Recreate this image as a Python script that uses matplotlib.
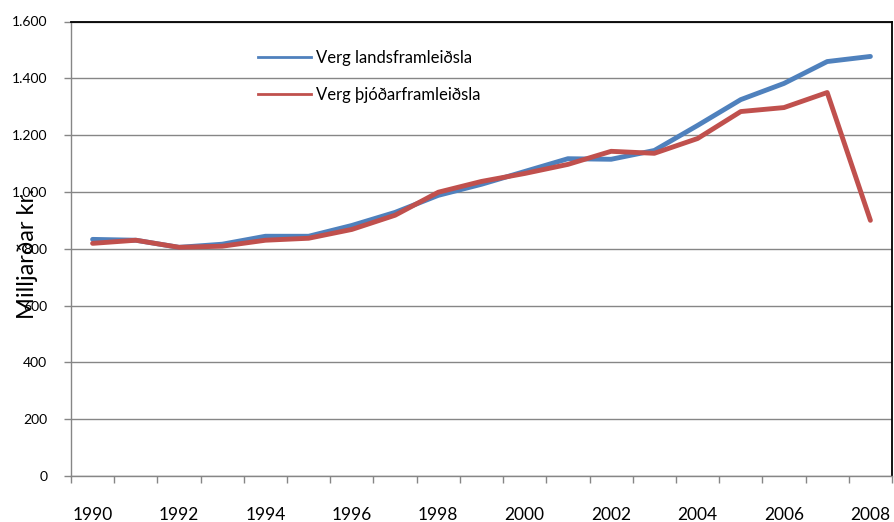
import matplotlib.pyplot as plt
from matplotlib.lines import Line2D
from matplotlib.ticker import FuncFormatter, FixedLocator

plt.rcParams['font.family'] = ['Lato', 'DejaVu Sans']

years = list(range(1990, 2009))
# Verg landsframleiðsla (milljarðar kr.)
vlf = [833, 830, 805, 816, 844, 844, 882, 928, 988, 1027, 1072,
       1117, 1115, 1146, 1234, 1325, 1382, 1459, 1477]
# Verg þjóðarframleiðsla (milljarðar kr.)
vthf = [819, 830, 805, 809, 830, 837, 868, 918, 999, 1037, 1065,
        1097, 1143, 1136, 1188, 1283, 1297, 1350, 900]
series_names = ["Verg landsframleiðsla", "Verg þjóðarframleiðsla"]
blue = "#4F81BD"
red = "#C0504D"
grey = "#868686"

W, H = 894, 522
fig = plt.figure(figsize=(W / 100, H / 100), dpi=100)
ax = fig.add_axes([71 / W, (H - 476) / H, 821 / W, (476 - 21.5) / H])

x = range(len(years))
ax.plot(x, vlf, color=blue, lw=3.5, solid_joinstyle="round", solid_capstyle="round", zorder=3)
ax.plot(x, vthf, color=red, lw=3.5, solid_joinstyle="round", solid_capstyle="round", zorder=4)

ax.set_xlim(-0.5, len(years) - 0.5)
ax.set_ylim(0, 1600)
ax.set_yticks(range(0, 1601, 200))
ax.yaxis.set_major_formatter(FuncFormatter(lambda v, p: f"{int(v):,}".replace(",", ".")))
ax.yaxis.grid(True, color=grey, lw=1)
ax.set_axisbelow(True)

# category labels every other year, tick marks on the category boundaries
ax.set_xticks([i for i in x if i % 2 == 0])
ax.set_xticklabels([str(years[i]) for i in x if i % 2 == 0])
ax.xaxis.set_minor_locator(FixedLocator([i - 0.5 for i in range(len(years) + 1)]))
ax.tick_params(axis="x", which="major", length=0, pad=22, labelsize=12.5)
ax.tick_params(axis="x", which="minor", length=5, color=grey, width=1)
ax.tick_params(axis="y", length=5, color=grey, width=1, pad=12, labelsize=10)

for side in ("left", "bottom"):
    ax.spines[side].set_color(grey)
    ax.spines[side].set_linewidth(1)
for side in ("top", "right"):
    ax.spines[side].set_color("black")
    ax.spines[side].set_linewidth(1.3)

fig.text(27 / W, 1 - 254 / H, "Milljarðar kr.", rotation=90, ha="center", va="center", fontsize=17)

handles = [Line2D([], [], color=blue, lw=2), Line2D([], [], color=red, lw=2)]
ax.legend(handles, series_names, loc="upper left", bbox_to_anchor=(258 / W, 1 - 50 / H),
          bbox_transform=fig.transFigure, frameon=False, fontsize=12, borderpad=0,
          borderaxespad=0, handlelength=3.2, handletextpad=0.25, labelspacing=1.25)

fig.savefig("out.png", dpi=100)
